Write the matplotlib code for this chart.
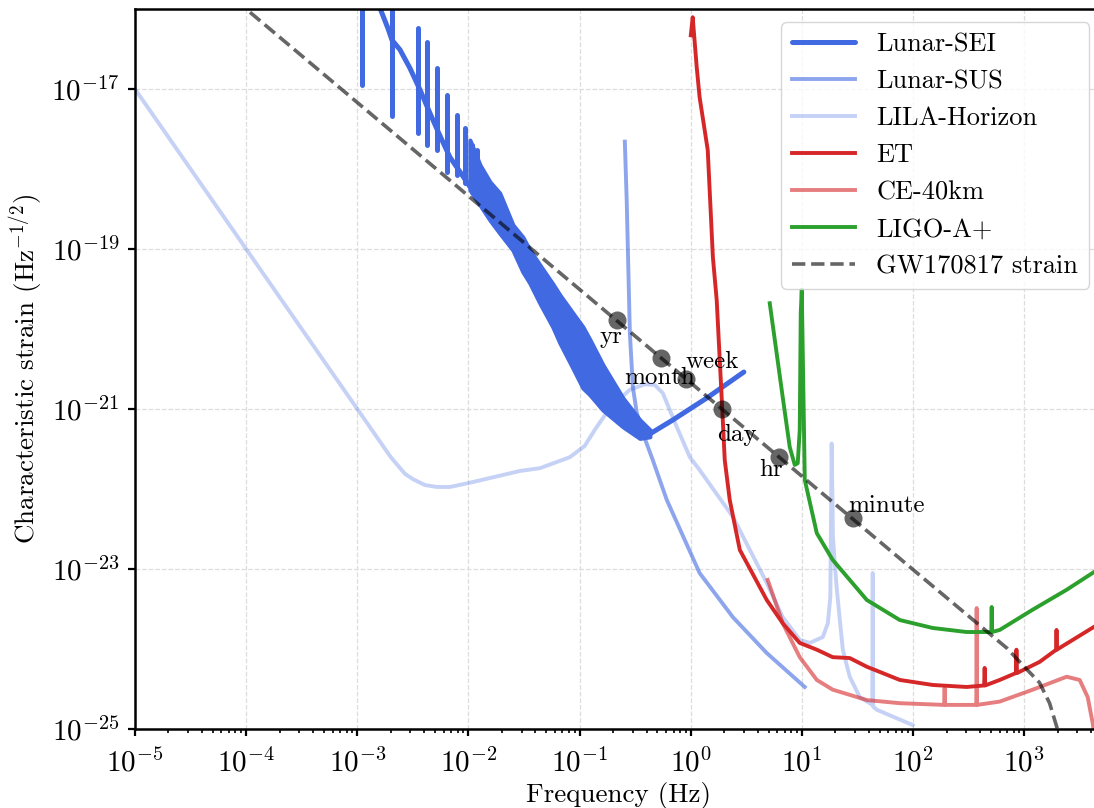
"""
Sensitivity curves (characteristic strain) of lunar and ground-based
gravitational-wave detectors, with the GW170817 inspiral track.
"""

import matplotlib
matplotlib.use("Agg")
import matplotlib.pyplot as plt
from matplotlib.ticker import (FixedLocator, NullLocator, LogLocator,
                               LogFormatterSciNotation)

plt.rcParams.update({
    "font.family": "serif",
    "font.serif": ["cmr10"],
    "mathtext.fontset": "cm",
    "axes.formatter.use_mathtext": True,
    "axes.unicode_minus": False,
    "font.size": 18,
})

# ---------------------------------------------------------------------------
# Data (frequency in Hz, characteristic strain)
# ---------------------------------------------------------------------------

# Lunar-SEI: low-frequency branch, resonance spikes, dense resonance band, tail
sei_curve_f = [1.53e-3, 1.88e-3, 2.05e-3, 2.42e-3, 2.97e-3, 3.66e-3, 4.5e-3,
               5.5e-3, 6.8e-3, 8.4e-3, 1.03e-2]
sei_curve_h = [1.2e-16, 5.8e-17, 4.1e-17, 3.1e-17, 1.83e-17, 9.8e-18, 5.0e-18,
               2.66e-18, 1.41e-18, 9.2e-19, 6.0e-19]

sei_spike_f = [1.10e-3, 2.05e-3, 3.5e-3, 4.23e-3, 5.2e-3, 6.4e-3, 7.9e-3,
               9.3e-3, 1.07e-2, 1.19e-2]
sei_spike_top = [2e-16, 2e-16, 5.8e-17, 3.9e-17, 1.83e-17, 8.4e-18, 4.7e-18,
                 3.25e-18, 2.0e-18, 1.73e-18]
sei_spike_bottom = [1.12e-17, 4.6e-18, 2.8e-18, 2.0e-18, 1.73e-18, 9.2e-19,
                    8.4e-19, 6.7e-19, 5.1e-19, 4.7e-19]

sei_band_f = [1.03e-2, 1.27e-2, 1.56e-2, 1.91e-2, 2.51e-2, 3.08e-2, 3.56e-2,
              4.39e-2, 5.74e-2, 6.64e-2, 8.69e-2, 0.107, 0.124, 0.162, 0.245,
              0.348, 0.428]
sei_band_hi = [2.3e-18, 1.12e-18, 6.9e-19, 5.0e-19, 2.0e-19, 1.41e-19, 9.7e-20,
               6.3e-20, 3.65e-20, 2.66e-20, 1.58e-20, 1.06e-20, 7.3e-21,
               3.55e-21, 1.37e-21, 7.3e-22, 5.5e-22]
sei_band_lo = [5.5e-19, 3.55e-19, 2.3e-19, 1.58e-19, 9.7e-20, 5.2e-20, 3.76e-20,
               2.1e-20, 1.06e-20, 6.7e-21, 3.25e-21, 1.83e-21, 1.5e-21, 9.7e-22,
               6.0e-22, 4.3e-22, 4.5e-22]

sei_tail_f = [0.36, 0.43, 0.69, 1.39, 3.0]
sei_tail_h = [4.4e-22, 4.9e-22, 7.3e-22, 1.37e-21, 2.9e-21]

# Lunar-SUS
sus_f = [0.255, 0.265, 0.283, 0.301, 0.327, 0.37, 0.455, 0.608, 0.883, 1.2,
         2.39, 4.82, 10.6]
sus_h = [2.2e-18, 4.1e-19, 8.9e-21, 1.88e-21, 8.9e-22, 5.0e-22, 2.3e-22,
         7.3e-23, 2.3e-23, 8.9e-24, 2.5e-24, 8.9e-25, 3.35e-25]

# LILA-Horizon
lila_f = [1e-5, 1e-4, 1e-3, 2.0e-3, 2.68e-3, 3.16e-3, 4.06e-3, 5.2e-3, 6.8e-3,
          1.01e-2, 2.9e-2, 4.39e-2, 8.17e-2, 0.111, 0.137, 0.186, 0.283, 0.386,
          0.474, 0.56, 0.748, 0.98, 1.2, 2.39, 4.82, 6.71, 9.55, 11.75, 15.4,
          17.1, 18.0, 18.5, 19.0, 19.7, 20.6, 23.3, 26.9, 33.1, 40.7, 42.9,
          43.3, 43.7, 47.1, 99]
lila_h = [1e-17, 1e-19, 1e-21, 2.5e-22, 1.55e-22, 1.33e-22, 1.12e-22, 1.06e-22,
          1.06e-22, 1.19e-22, 1.68e-22, 1.82e-22, 2.5e-22, 3.45e-22, 5.5e-22,
          1.02e-21, 1.74e-21, 2.04e-21, 2.0e-21, 1.58e-21, 5.96e-22, 2.5e-22,
          1.73e-22, 4.5e-23, 6.7e-24, 2.5e-24, 1.3e-24, 1.19e-24, 1.41e-24,
          2.1e-24, 4.5e-24, 3.7e-22, 2.5e-23, 1.2e-23, 5.5e-24, 9.8e-25,
          4.5e-25, 2.5e-25, 2.1e-25, 2.0e-25, 8.9e-24, 1.9e-25, 1.74e-25,
          1.12e-25]

# ET
et_f = [1.0, 1.04, 1.13, 1.2, 1.42, 1.58, 1.71, 1.9, 2.02, 2.24, 2.76, 4.82,
        6.71, 9.55, 13.6, 18.9, 26.9, 38.3, 75.9, 150, 303, 435, 440, 445, 601,
        840, 850, 860, 1374, 1940, 1950, 1960, 4210]
et_h = [4.7e-17, 7.9e-17, 1.88e-17, 7.9e-18, 1.73e-18, 7.9e-20, 2.3e-20,
        1.3e-21, 2.3e-22, 7.3e-23, 1.73e-23, 4.1e-24, 2.1e-24, 1.19e-24,
        9.8e-25, 7.9e-25, 7.7e-25, 6.0e-25, 4.1e-25, 3.55e-25, 3.35e-25,
        3.5e-25, 5.8e-25, 3.5e-25, 4.1e-25, 5.0e-25, 9.8e-25, 5.0e-25, 6.9e-25,
        9.8e-25, 1.73e-24, 9.8e-25, 1.88e-24]

# CE-40km
ce_f = [4.92, 6.71, 9.55, 13.6, 18.9, 38.3, 75.9, 190, 192, 194, 370, 373, 376,
        601, 1191, 2405, 3150, 3720, 4120, 4500]
ce_h = [7.3e-24, 2.1e-24, 7.9e-25, 4.1e-25, 3.1e-25, 2.3e-25, 2.1e-25, 2.0e-25,
        3.25e-25, 2.0e-25, 2.0e-25, 3.25e-24, 2.0e-25, 2.2e-25, 3.1e-25,
        4.5e-25, 4.1e-25, 2.5e-25, 1.19e-25, 5e-26]

# LIGO-A+
ligo_f = [5.13, 6.71, 7.76, 8.61, 9.16, 9.55, 9.75, 9.96, 10.6, 13.6, 18.9,
          38.3, 75.9, 150, 303, 505, 509, 513, 601, 1191, 2405, 4210]
ligo_h = [2.1e-20, 1.41e-21, 3.35e-22, 2.0e-22, 2.1e-22, 5.5e-22, 1.58e-20,
          3.1e-20, 1.3e-22, 2.8e-23, 1.3e-23, 4.1e-24, 2.3e-24, 1.83e-24,
          1.63e-24, 1.63e-24, 3.35e-24, 1.63e-24, 1.73e-24, 3.1e-24, 5.5e-24,
          9.1e-24]

# GW170817 strain track and time-to-merger markers
gw_f = [8e-5, 1e-4, 1e-2, 1.0, 100, 700, 1000, 1370, 1690, 1960, 2150]
gw_h = [1.3e-16, 1.0e-16, 4.6e-19, 2.12e-21, 9.8e-24, 1.02e-24, 6.0e-25,
        3.8e-25, 2.1e-25, 1.06e-25, 6e-26]

event_names = ["yr", "month", "week", "day", "hr", "minute"]
event_f = [0.216, 0.537, 0.90, 1.90, 6.2, 28.6]
event_h = [1.3e-20, 4.4e-21, 2.4e-21, 1.0e-21, 2.5e-22, 4.3e-23]

xtick_values = [1e-5, 1e-4, 1e-3, 1e-2, 1e-1, 1e0, 1e1, 1e2, 1e3]
ytick_values = [1e-25, 1e-23, 1e-21, 1e-19, 1e-17]

# label offsets (points) for the time-to-merger annotations
EVENT_OFFSETS = {
    "yr": (-4, -12),
    "month": (-1, -15),
    "week": (19, 12),
    "day": (11, -19),
    "hr": (-6, -9),
    "minute": (24, 9),
}

BLUE = "royalblue"
RED = "tab:red"
GREEN = "tab:green"
LW = 2.8
LW_SEI = 3.6


def main():
    fig = plt.figure(figsize=(10.94, 8.08), dpi=100)
    ax = fig.add_axes([0.1234, 0.0978, 0.8839, 0.891])

    # Lunar-SEI
    ax.plot(sei_curve_f, sei_curve_h, color=BLUE, lw=LW_SEI,
            solid_capstyle="round", label="Lunar-SEI")
    ax.vlines(sei_spike_f, sei_spike_bottom, sei_spike_top, color=BLUE,
              lw=LW_SEI, capstyle="round", zorder=2)
    ax.fill_between(sei_band_f, sei_band_lo, sei_band_hi, color=BLUE,
                    lw=3.0, edgecolor=BLUE, zorder=2)
    ax.plot(sei_tail_f, sei_tail_h, color=BLUE, lw=LW_SEI,
            solid_capstyle="round")

    ax.plot(sus_f, sus_h, color=BLUE, alpha=0.6, lw=LW, label="Lunar-SUS")
    ax.plot(lila_f, lila_h, color=BLUE, alpha=0.3, lw=LW, label="LILA-Horizon")
    ax.plot(et_f, et_h, color=RED, lw=LW, label="ET")
    ax.plot(ce_f, ce_h, color=RED, alpha=0.6, lw=LW, label="CE-40km")
    ax.plot(ligo_f, ligo_h, color=GREEN, lw=LW, label="LIGO-A+")
    ax.plot(gw_f, gw_h, color="k", alpha=0.6, lw=2.6, ls="--",
            label="GW170817 strain")

    ax.plot(event_f, event_h, "o", color="k", alpha=0.6, ms=13, mew=0)
    for name, f, h in zip(event_names, event_f, event_h):
        ax.annotate(name, (f, h), xytext=EVENT_OFFSETS[name],
                    textcoords="offset points", ha="center", va="center",
                    fontsize=18)

    ax.set_xscale("log")
    ax.set_yscale("log")
    ax.set_xlim(1e-5, 5000)
    ax.set_ylim(1e-25, 1e-16)

    ax.xaxis.set_major_locator(FixedLocator(xtick_values))
    ax.xaxis.set_major_formatter(LogFormatterSciNotation())
    ax.xaxis.set_minor_locator(LogLocator(base=10, subs=range(2, 10),
                                          numticks=20))
    ax.yaxis.set_major_locator(FixedLocator(ytick_values))
    ax.yaxis.set_major_formatter(LogFormatterSciNotation())
    ax.yaxis.set_minor_locator(NullLocator())

    ax.set_xlabel("Frequency (Hz)", fontsize=19.5, labelpad=3)
    ax.set_ylabel(r"Characteristic strain ($\mathrm{Hz}^{-1/2}$)",
                  fontsize=19.5, labelpad=4)

    for side in ["top", "bottom", "left", "right"]:
        ax.spines[side].set_linewidth(1.8)
    ax.tick_params(which="major", length=5, width=1.6, labelsize=21, pad=6)
    ax.tick_params(axis="x", which="major", pad=9)
    ax.tick_params(which="minor", length=3, width=1.2)

    ax.grid(True, which="major", ls="--", color="#dddddd", lw=0.9)
    ax.legend(loc="upper right", fontsize=19, handlelength=2.4)

    fig.savefig("out.png", dpi=100)


if __name__ == "__main__":
    main()
